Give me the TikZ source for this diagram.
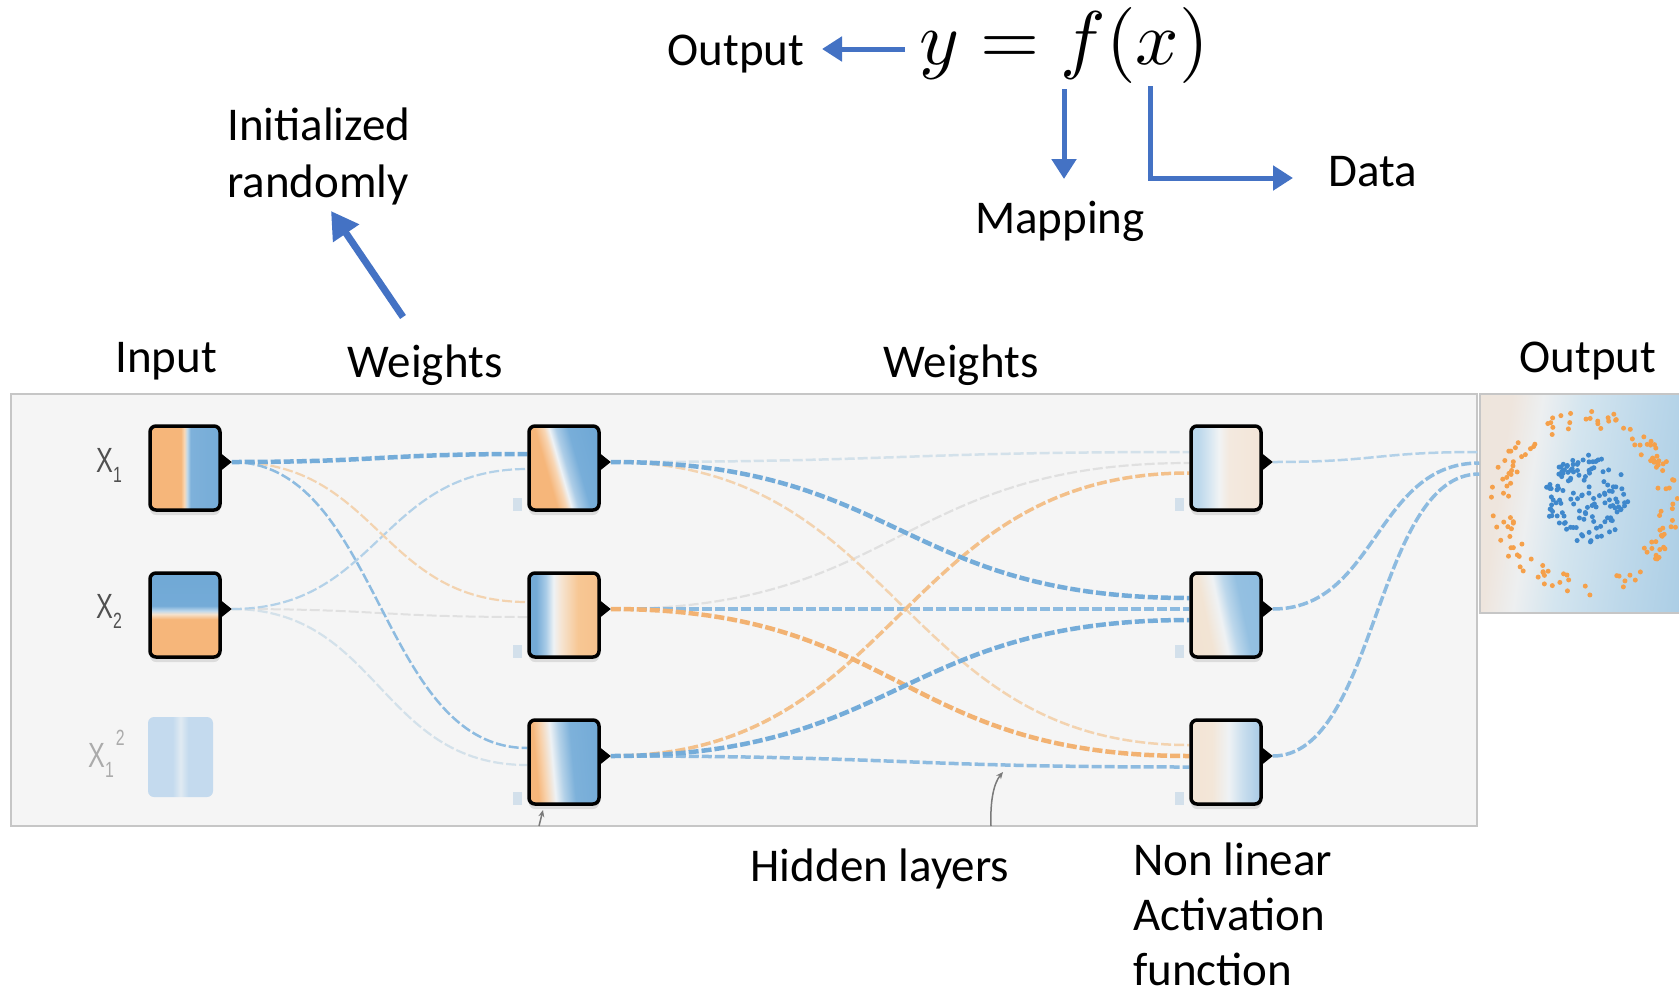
\documentclass[tikz,border=0pt]{standalone}
\usepackage{fontspec}
\setmainfont{Carlito}
\newfontfamily\xlfont[FakeStretch=0.72]{Liberation Sans}
\usetikzlibrary{arrows.meta,shadows,calc}
\pgfdeclarelayer{bg}
\pgfdeclarelayer{links}
\pgfsetlayers{bg,links,main}

\definecolor{arrblue}{HTML}{4472C4}
\definecolor{xgray}{HTML}{505050}
\definecolor{xlight}{HTML}{ABABAB}
\definecolor{panelfill}{HTML}{F5F5F5}
\definecolor{paneldraw}{HTML}{C6C6C6}
\definecolor{biasc}{HTML}{D3E0EB}
\definecolor{garr}{HTML}{7A7A7A}
\definecolor{dotor}{HTML}{F5A04A}
\definecolor{dotbl}{HTML}{3F88CC}
% link colours
\definecolor{lbla}{HTML}{74ACD9}
\definecolor{lblb}{HTML}{8DBBE0}
\definecolor{lblc}{HTML}{B3D1E8}
\definecolor{lbld}{HTML}{D3E1EA}
\definecolor{lora}{HTML}{F2B272}
\definecolor{lorb}{HTML}{F3C08A}
\definecolor{lorc}{HTML}{F3D3B0}
\definecolor{lgr}{HTML}{E0E0E0}
% shading colours
\definecolor{bor}{HTML}{F6B67A}
\definecolor{bbl}{HTML}{6BA5D4}
\definecolor{cA}{HTML}{F9D8B5}
\definecolor{cB}{HTML}{C0D9EC}
\definecolor{cC}{HTML}{7EB1DA}
\definecolor{cD}{HTML}{F6E2CC}
\definecolor{cE}{HTML}{BFD8EC}
\definecolor{cF}{HTML}{74ABD7}
\definecolor{sq}{HTML}{C4DAEE}
\definecolor{sqm}{HTML}{E0EAF2}
\definecolor{wh}{HTML}{EEF2F5}
\definecolor{hA}{HTML}{F8D6B4}
\definecolor{hB}{HTML}{ADCDE7}
\definecolor{hC}{HTML}{78AED9}
\definecolor{hD}{HTML}{64A0D1}
\definecolor{hE}{HTML}{6EA7D5}
\definecolor{hF}{HTML}{74AAD6}
\definecolor{hG}{HTML}{A9CCE7}
\definecolor{hH}{HTML}{F6E4D1}
\definecolor{hI}{HTML}{F7C794}
\definecolor{hJ}{HTML}{F5B77F}
\definecolor{hK}{HTML}{F8D1AA}
\definecolor{hL}{HTML}{B3D1E8}
\definecolor{hM}{HTML}{7DB1DA}
\definecolor{hN}{HTML}{68A3D3}
\definecolor{kA}{HTML}{B3D2E9}
\definecolor{kB}{HTML}{BBD7EB}
\definecolor{kC}{HTML}{D6E6F1}
\definecolor{kD}{HTML}{F1F3F4}
\definecolor{kE}{HTML}{F3E9DF}
\definecolor{kF}{HTML}{F2E2D1}
\definecolor{kG}{HTML}{F2E1CE}
\definecolor{kH}{HTML}{F2E4D4}
\definecolor{kI}{HTML}{EFF2F4}
\definecolor{kJ}{HTML}{BCD7EB}
\definecolor{kK}{HTML}{94C0E1}
\definecolor{kL}{HTML}{88B9DF}
\definecolor{kM}{HTML}{F3E2CF}
\definecolor{kN}{HTML}{F3E6D8}
\definecolor{kO}{HTML}{C9DEEE}
\definecolor{kP}{HTML}{AFCEE7}
\definecolor{kQ}{HTML}{A9CBE6}
\definecolor{oA}{HTML}{EDE3DA}
\definecolor{oB}{HTML}{EEE5DD}
\definecolor{oC}{HTML}{EDEFF0}
\definecolor{oD}{HTML}{D4E5EF}
\definecolor{oE}{HTML}{BDD8EA}
\definecolor{oF}{HTML}{AACDE5}

\pgfdeclarehorizontalshading{shxone}{100bp}{color(0bp)=(bor); color(47bp)=(bor); color(49.5bp)=(cA); color(51.5bp)=(cB); color(54bp)=(cC); color(100bp)=(bbl)}
\pgfdeclareverticalshading{shxtwo}{100bp}{color(0bp)=(bor); color(47.5bp)=(bor); color(50.5bp)=(cD); color(52.5bp)=(cE); color(55.5bp)=(cF); color(100bp)=(bbl)}
\pgfdeclarehorizontalshading{shxsq}{100bp}{color(0bp)=(sq); color(44bp)=(sq); color(50bp)=(sqm); color(56bp)=(sq); color(100bp)=(sq)}
\pgfdeclarehorizontalshading{shha}{100bp}{color(0bp)=(bor); color(38bp)=(bor); color(44bp)=(hA); color(47.5bp)=(wh); color(52bp)=(hB); color(60bp)=(hC); color(100bp)=(hD)}
\pgfdeclarehorizontalshading{shhb}{100bp}{color(0bp)=(hE); color(30bp)=(hF); color(37bp)=(hG); color(42.5bp)=(wh); color(48bp)=(hH); color(60bp)=(hI); color(100bp)=(hJ)}
\pgfdeclarehorizontalshading{shhc}{100bp}{color(0bp)=(bor); color(30bp)=(bor); color(35bp)=(hK); color(42bp)=(wh); color(48bp)=(hL); color(56bp)=(hM); color(100bp)=(hN)}
\pgfdeclarehorizontalshading{shka}{100bp}{color(0bp)=(kA); color(30bp)=(kB); color(38bp)=(kC); color(45bp)=(kD); color(52bp)=(kE); color(100bp)=(kF)}
\pgfdeclarehorizontalshading{shkb}{100bp}{color(0bp)=(kG); color(36bp)=(kH); color(46bp)=(kI); color(53bp)=(kJ); color(62bp)=(kK); color(100bp)=(kL)}
\pgfdeclarehorizontalshading{shkc}{100bp}{color(0bp)=(kM); color(40bp)=(kN); color(52bp)=(wh); color(62bp)=(kO); color(72bp)=(kP); color(100bp)=(kQ)}
\pgfdeclarehorizontalshading{shout}{100bp}{color(0bp)=(oA); color(29bp)=(oB); color(36bp)=(oC); color(45bp)=(oD); color(60bp)=(oE); color(75bp)=(oF); color(100bp)=(oF)}

\tikzset{
  every node/.style={inner sep=0pt},
  lbl/.style={font=\fontsize{47}{58}\selectfont, text=black},
  box/.style={draw=black, line width=3.5pt, rounded corners=6pt,
    minimum width=70pt, minimum height=84pt, shade,
    drop shadow={shadow xshift=0pt, shadow yshift=-5pt, opacity=0.10, fill=black}},
  fadebox/.style={rounded corners=6pt, minimum width=65pt, minimum height=80pt, shade, shading=shxsq},
  bias/.style={fill=biasc, minimum width=9pt, minimum height=13pt},
  panel/.style={fill=panelfill, draw=paneldraw, line width=1.5pt},
  xl/.style={font=\xlfont\fontsize{35}{40}\selectfont, text=xgray, anchor=base west},
  lk/.style={dash pattern=on 10pt off 3pt},
  barrow/.style={draw=arrblue, line width=5pt, -{Triangle[length=20pt,width=24pt]}},
  garrow/.style={draw=garr, line width=1.5pt, -{Stealth[length=7pt,width=6pt]}},
}

\begin{document}
\begin{tikzpicture}[x=1pt,y=-1pt]
\useasboundingbox (0,0) rectangle (1679,999);
\begin{pgfonlayer}{bg}
  \fill[white] (0,0) rectangle (1679,999);
  \node[panel, minimum width=1466pt, minimum height=432pt] (net) at (744,610) {};
  \node[draw=paneldraw, line width=1.5pt, shade, shading=shout, shading angle=-8,
        minimum width=220pt, minimum height=219pt] (outp) at (1590,503.5) {};
\end{pgfonlayer}

% ---------- top texts and arrows ----------
\node[lbl, anchor=base] (toutput) at (736,65) {Output};
\node[font=\fontsize{10}{12}\selectfont, scale=7.6] (eq) at (1064,45) {$y=f(x)$};
\node[lbl, anchor=base] (tmap) at (1060,233) {Mapping};
\node[lbl, anchor=base west] (tdata) at (1328,186) {Data};
\node[lbl, anchor=base west] (tinit1) at (227,140) {Initialized};
\node[lbl, anchor=base west] (tinit2) at (227,197) {randomly};
\node[lbl, anchor=base] (tinput) at (166,372) {Input};
\node[lbl, anchor=base] (tw1) at (425,377) {Weights};
\node[lbl, anchor=base] (tw2) at (961,377) {Weights};
\node[lbl, anchor=base] (tout2) at (1588,372) {Output};
\node[lbl, anchor=base] (thid) at (880,881) {Hidden layers};
\node[lbl, anchor=base west, text depth=0pt] (tnl1) at (1133,875) {Non linear};
\node[lbl, anchor=base west, text depth=0pt] (tnl2) at (1133,930) {Activation};
\node[lbl, anchor=base west, text depth=0pt] (tnl3) at (1133,985) {function};

\coordinate (a1s) at (905,49);  \coordinate (a1e) at (822,49);
\coordinate (a2s) at (1064,89); \coordinate (a2e) at (1064,179);
\coordinate (a3s) at (1150,86); \coordinate (a3e) at (1293,178);
\coordinate (a4s) at (403,317); \coordinate (a4e) at (331,211);
\draw[barrow] (a1s) -- (a1e);
\draw[barrow] (a2s) -- (a2e);
\draw[barrow, line join=miter] (a3s) |- (a3e);
\draw[draw=arrblue, line width=7pt, -{Triangle[length=27pt,width=30pt]}] (a4s) -- (a4e);

% ---------- network boxes ----------
\node[box, shading=shxone] (x1) at (185,468) {};
\node[box, shading=shxtwo] (x2) at (185,615) {};
\node[fadebox] (x3) at (180.5,757) {};
\node[box, shading=shha, shading angle=16] (h1a) at (564,468) {};
\node[box, shading=shhb] (h1b) at (564,615) {};
\node[box, shading=shhc, shading angle=5] (h1c) at (564,762) {};
\node[box, shading=shka] (h2a) at (1226,468) {};
\node[box, shading=shkb, shading angle=12] (h2b) at (1226,615) {};
\node[box, shading=shkc] (h2c) at (1226,762) {};

\foreach \n in {h1a,h1b,h1c,h2a,h2b,h2c}{
  \node[bias] (\n-b) at ([xshift=-10pt,yshift=-36pt]\n.west) {};
}
\foreach \n in {x1,x2,h1a,h1b,h1c,h2a,h2b,h2c}{
  \fill[black] ([yshift=14pt]\n.east) -- ([xshift=10pt,yshift=6pt]\n.east) coordinate (\n-o) -- ([yshift=-2pt]\n.east) -- cycle;
}

% input labels
\node[xl] (lx1) at (96,472) {X\raisebox{-10pt}{\fontsize{22}{22}\selectfont 1}};
\node[xl] (lx2) at (96,618) {X\raisebox{-10pt}{\fontsize{22}{22}\selectfont 2}};
\node[xl, text=xlight] (lx3) at (88,767) {X\raisebox{-10pt}{\fontsize{22}{22}\selectfont 1}\hspace{2pt}\raisebox{22pt}{\fontsize{22}{22}\selectfont 2}};

% ---------- links ----------
\begin{pgfonlayer}{links}
  % input -> hidden 1
  \draw[lk, draw=lbld, line width=2.2pt] (x2-o) .. controls +(148,0) and +(-148,0) .. ([yshift=-3pt]h1c.west);
  \draw[lk, draw=lgr, line width=2pt] (x2-o) .. controls +(148,0) and +(-148,0) .. ([yshift=-2pt]h1b.west);
  \draw[lk, draw=lblc, line width=2.2pt] (x2-o) .. controls +(148,0) and +(-148,0) .. ([yshift=-1pt]h1a.west);
  \draw[lk, draw=lorc, line width=2.2pt] (x1-o) .. controls +(148,0) and +(-148,0) .. ([yshift=13pt]h1b.west);
  \draw[lk, draw=lblb, line width=2.5pt] (x1-o) .. controls +(148,0) and +(-148,0) .. ([yshift=14pt]h1c.west);
  \draw[lk, draw=lbla, line width=4.5pt] (x1-o) .. controls +(148,0) and +(-148,0) .. ([yshift=14pt]h1a.west);
  % hidden 1 -> hidden 2
  \draw[lk, draw=lbld, line width=2.5pt] (h1a-o) .. controls +(290,0) and +(-290,0) .. ([yshift=16pt]h2a.west);
  \draw[lk, draw=lgr, line width=2.2pt] (h1b-o) .. controls +(290,0) and +(-290,0) .. ([yshift=5pt]h2a.west);
  \draw[lk, draw=lorc, line width=2.5pt] (h1a-o) .. controls +(290,0) and +(-290,0) .. ([yshift=17pt]h2c.west);
  \draw[lk, draw=lblb, line width=3.5pt] (h1c-o) .. controls +(290,0) and +(-290,0) .. ([yshift=-5pt]h2c.west);
  \draw[lk, draw=lblb, line width=3.5pt] (h1b-o) .. controls +(290,0) and +(-290,0) .. ([yshift=6pt]h2b.west);
  \draw[lk, draw=lorb, line width=3.5pt] (h1c-o) .. controls +(290,0) and +(-290,0) .. ([yshift=-5pt]h2a.west);
  \draw[lk, draw=lora, line width=4.5pt] (h1b-o) .. controls +(290,0) and +(-290,0) .. ([yshift=6pt]h2c.west);
  \draw[lk, draw=lbla, line width=4.5pt] (h1c-o) .. controls +(290,0) and +(-290,0) .. ([yshift=-5pt]h2b.west);
  \draw[lk, draw=lbla, line width=4.5pt] (h1a-o) .. controls +(290,0) and +(-290,0) .. ([yshift=17pt]h2b.west);
  % hidden 2 -> output
  \draw[lk, draw=lblc, line width=2.5pt] (h2a-o) .. controls +(104,0) and +(-104,0) .. ([yshift=51.5pt]outp.west);
  \draw[lk, draw=lblb, line width=3.5pt] (h2b-o) .. controls +(104,0) and +(-104,0) .. ([yshift=40.5pt]outp.west);
  \draw[lk, draw=lblb, line width=3.5pt] (h2c-o) .. controls +(104,0) and +(-104,0) .. ([yshift=29.5pt]outp.west);
\end{pgfonlayer}

% ---------- output scatter ----------
\coordinate (ringc) at (1585,503);
\coordinate (clc) at (1588,498);
\pgfmathsetseed{3}
\foreach \i in {1,...,140}{
  \pgfmathsetmacro{\ang}{360*rnd}
  \pgfmathsetmacro{\rad}{84+10*rand}
  \fill[dotor] ($(ringc)+(\ang:\rad)$) circle (2.5pt);
}
\foreach \i in {1,...,130}{
  \pgfmathsetmacro{\ang}{360*rnd}
  \pgfmathsetmacro{\rad}{44*sqrt(rnd)}
  \fill[dotbl] ($(clc)+(\ang:\rad)$) circle (2.5pt);
}

% ---------- small grey pointers ----------
\coordinate (g1s) at (539,826); \coordinate (g1e) at (543,810);
\coordinate (g2s) at (991,826); \coordinate (g2e) at (1003,772);
\draw[garrow] (g1s) -- (g1e);
\draw[garrow] (g2s) .. controls (990,800) and (994,783) .. (g2e);
\end{tikzpicture}
\end{document}
